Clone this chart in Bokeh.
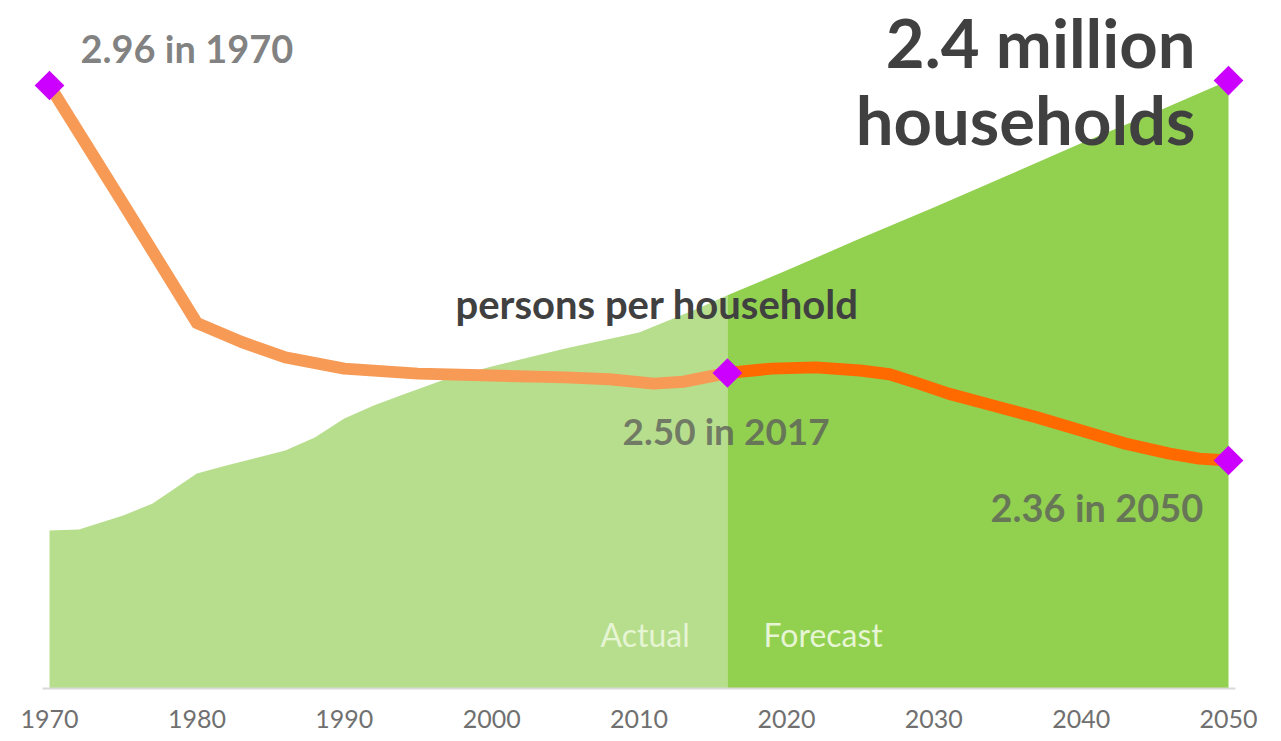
import numpy as np
from bokeh.plotting import figure
from bokeh.models import Range1d, FixedTicker, Label
from bokeh.embed import file_html
from bokeh.resources import INLINE

# ---- data ----
years_actual = [1970, 1972, 1975, 1977, 1980, 1982, 1986, 1988, 1990, 1992, 1994,
                1997, 2000, 2005, 2010, 2012, 2014, 2016]
households_actual = [0.624, 0.628, 0.683, 0.730, 0.849, 0.880, 0.940, 0.991, 1.066,
                     1.117, 1.161, 1.224, 1.271, 1.342, 1.405, 1.453, 1.500, 1.552]
years_forecast = [2016, 2020, 2025, 2030, 2035, 2040, 2045, 2050]
households_forecast = [1.552, 1.650, 1.776, 1.899, 2.025, 2.152, 2.274, 2.400]

pph_years_actual = [1970, 1975, 1980, 1983, 1986, 1990, 1995, 2000, 2005, 2008, 2011, 2013, 2016]
pph_actual = [2.96, 2.771, 2.58, 2.55, 2.525, 2.507, 2.499, 2.496, 2.493, 2.490, 2.483, 2.486, 2.50]
pph_years_forecast = [2016, 2019, 2022, 2025, 2027, 2029, 2031, 2034, 2037, 2040, 2043, 2046, 2048, 2050]
pph_forecast = [2.50, 2.507, 2.509, 2.504, 2.498, 2.483, 2.467, 2.448, 2.429, 2.408, 2.387,
                2.371, 2.363, 2.36]

highlight_years = [1970, 2016, 2050]
highlight_pph = [2.96, 2.50, 2.36]
total_year = [2050]
total_households = [2.40]

tick_years = [1970, 1980, 1990, 2000, 2010, 2020, 2030, 2040, 2050]
tick_labels = ["1970", "1980", "1990", "2000", "2010", "2020", "2030", "2040", "2050"]

# ---- figure ----
p = figure(width=1265, height=733, output_backend="svg", toolbar_location=None,
           x_range=Range1d(1966.675, 2052.51), y_range=Range1d(0, 2.716),
           y_axis_location=None, min_border_left=0, min_border_right=0,
           min_border_top=0, min_border_bottom=45)
p.extra_y_ranges = {"pph": Range1d(1.9952, 3.096)}
p.outline_line_color = None
p.xgrid.visible = False
p.ygrid.visible = False
p.background_fill_color = "white"
p.border_fill_color = "white"

# areas
p.varea(x=years_actual, y1=0, y2=households_actual, fill_color="#B7DE8C")
p.varea(x=years_forecast, y1=0, y2=households_forecast, fill_color="#92D050")

# persons per household line
p.line(pph_years_actual, pph_actual, y_range_name="pph", line_color="#F79A55",
       line_width=12, line_join="round")
p.line(pph_years_forecast, pph_forecast, y_range_name="pph", line_color="#FF6A00",
       line_width=12, line_join="round")

# markers
p.scatter(highlight_years, highlight_pph, y_range_name="pph", marker="square",
          angle=np.pi / 4, size=21, fill_color="#CC00FF", line_color=None)
p.scatter(total_year, total_households, marker="square", angle=np.pi / 4, size=21,
          fill_color="#CC00FF", line_color=None)

# axis
ax = p.xaxis[0]
ax.ticker = FixedTicker(ticks=tick_years)
ax.major_label_overrides = {y: l for y, l in zip(tick_years, tick_labels)}
ax.major_tick_line_color = None
ax.minor_tick_line_color = None
ax.axis_line_color = "#D9D9D9"
ax.axis_line_width = 2
ax.bounds = (1969.5, 2050.5)
ax.major_label_text_font = "Lato"
ax.major_label_text_font_size = "25px"
ax.major_label_text_color = "#707070"
ax.major_label_standoff = 15

# labels
def lab(x, y, text, size, color, style="bold", align="left", alpha=1.0):
    p.add_layout(Label(x=x, y=y, text=text, text_font="Lato", text_font_size=size,
                       text_font_style=style, text_color=color, text_alpha=alpha,
                       text_align=align, text_baseline="alphabetic"))

lab(1972.1, 2.530, "2.96 in 1970", "38px", "#595959", alpha=0.75)
lab(2047.76, 2.554, "2.4 million", "67px", "#404040", align="right")
lab(2047.76, 2.247, "households", "67px", "#404040", align="right")
lab(1997.55, 1.516, "persons per household", "40px", "#404040")
lab(2008.88, 1.018, "2.50 in 2017", "37px", "#595959", alpha=0.75)
lab(2033.85, 0.716, "2.36 in 2050", "38px", "#595959", alpha=0.75)
lab(2007.39, 0.213, "Actual", "32px", "#E6F5D3", style="normal")
lab(2018.45, 0.213, "Forecast", "32px", "#E6F5D3", style="normal")

open("out.html", "w").write(file_html(p, INLINE))
